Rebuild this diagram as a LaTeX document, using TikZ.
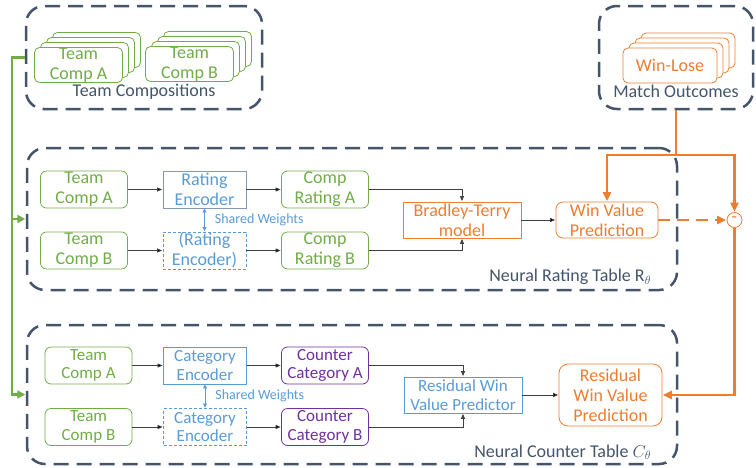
\documentclass[tikz,border=0pt]{standalone}
\usepackage{fontspec}
\setmainfont{Carlito}
\usetikzlibrary{positioning, arrows.meta, calc}

\definecolor{slate}{HTML}{44546A}
\definecolor{leaf}{HTML}{70AD47}
\definecolor{amber}{HTML}{ED7D31}
\definecolor{sky}{HTML}{5B9BD5}
\definecolor{steel}{HTML}{8497B0}
\definecolor{plum}{HTML}{7030A0}

\begin{document}
\begin{tikzpicture}[x=1pt,y=-1pt,shorten >=0.5pt,on grid,
  every node/.style={font=\fontsize{18}{20}\selectfont,align=center,inner sep=0pt},
  group/.style={draw=slate,line width=2.5pt,dash pattern=on 15pt off 8pt,rounded corners=18pt},
  grouplabel/.style={text=slate},
  card/.style={draw=leaf,text=leaf,fill=white,line width=0.8pt,rounded corners=5pt,minimum width=88pt,minimum height=35pt},
  outcard/.style={draw=amber,text=amber,fill=white,line width=0.8pt,rounded corners=5pt,minimum width=94pt,minimum height=35pt},
  comp/.style={draw=leaf,text=leaf,line width=0.8pt,rounded corners=6pt,minimum width=87pt,minimum height=37pt},
  enc/.style={draw=sky,text=sky,line width=0.8pt,minimum width=83pt,minimum height=37pt},
  counter/.style={draw=plum,text=plum,line width=0.8pt,rounded corners=6pt,minimum width=87pt,minimum height=37pt},
  small/.style={font=\fontsize{17}{18.5}\selectfont},
  flow/.style={draw=black!75,line width=0.7pt,-{Triangle[length=5pt,width=4pt]}},
  shared/.style={draw=sky,line width=0.7pt,{Triangle[length=4pt,width=4pt]}-{Triangle[length=4pt,width=4pt]}},
  outcome/.style={draw=amber,line width=2.5pt},
  feed/.style={draw=leaf,line width=2.5pt,-{Triangle[length=8pt,width=8pt]}}
]
\useasboundingbox (0,0) rectangle (756,467);

% groups
\node[group,minimum width=236pt,minimum height=103pt] (comps) at (144,57.5) {};
\node[group,minimum width=154pt,minimum height=103pt] (outcomes) at (676,57.5) {};
\node[group,minimum width=650pt,minimum height=142pt] (rating_tbl) at (352,219) {};
\node[group,minimum width=650pt,minimum height=139pt] (counter_tbl) at (352,394.5) {};

\node[grouplabel] (comps_lbl) [above=11pt of comps.south] {Team Compositions};
\node[grouplabel] (outcomes_lbl) [above=12pt of outcomes.south] {Match Outcomes};
\node[grouplabel,anchor=east] (rating_lbl) at ($(rating_tbl.south east)+(-27,-14)$) {Neural Rating Table $\mathrm{R}_\theta$};
\node[grouplabel,anchor=east] (counter_lbl) at ($(counter_tbl.south east)+(-27,-13)$) {Neural Counter Table $C_\theta$};

% stacked cards
\foreach \i in {3,2,1} {
  \node[card] (tc_a_\i) at (78.5+6*\i,65-5*\i) {};
  \node[card] (tc_b_\i) at (189.5+6*\i,64-5*\i) {};
  \node[outcard] (wl_\i) at (670+6*\i,65.5-5*\i) {};
}
\node[card] (tc_a) at (78.5,65) {Team\\Comp A};
\node[card] (tc_b) at (189.5,64) {Team\\Comp B};
\node[outcard] (wl) at (670,65.5) {Win-Lose};

% rating table
\node[comp] (tc_ra) at (84,189.5) {Team\\Comp A};
\node[enc,draw=steel] (enc_ra) [right=120.5pt of tc_ra] {Rating\\Encoder};
\node[comp] (cr_a) [right=120.5pt of enc_ra] {Comp\\Rating A};
\node[comp] (tc_rb) [below=61pt of tc_ra] {Team\\Comp B};
\node[enc,dash pattern=on 3pt off 2pt] (enc_rb) [below=61pt of enc_ra] {(Rating\\Encoder)};
\node[comp] (cr_b) [below=61pt of cr_a] {Comp\\Rating B};
\node[draw=amber,text=amber,line width=0.8pt,minimum width=118pt,minimum height=36pt] (bt) at (462,220) {Bradley-Terry\\model};
\node[draw=amber,text=amber,line width=0.8pt,rounded corners=7pt,minimum width=102pt,minimum height=36pt] (wvp) [right=145pt of bt] {Win Value\\Prediction};
\node[circle,draw=amber,fill=white,text=amber,line width=0.8pt,minimum size=15pt,font=\fontsize{18}{18}\selectfont] (diff) at (734.5,220) {-};

% counter table
\node[comp,small] (tc_ca) at (88.5,365.5) {Team\\Comp A};
\node[enc,small] (enc_ca) [right=116.5pt of tc_ca] {Category\\Encoder};
\node[counter,small] (cc_a) [right=120pt of enc_ca] {Counter\\Category A};
\node[comp,small] (tc_cb) [below=61.5pt of tc_ca] {Team\\Comp B};
\node[enc,small,dash pattern=on 3pt off 2pt] (enc_cb) [below=61.5pt of enc_ca] {Category\\Encoder};
\node[counter,small] (cc_b) [below=61.5pt of cc_a] {Counter\\Category B};
\node[enc,small,minimum width=118pt,minimum height=36pt] (rwvp) at (463,395) {Residual Win\\Value Predictor};
\node[draw=amber,text=amber,line width=0.8pt,rounded corners=9pt,minimum width=103pt,minimum height=62pt] (rwvpred) [right=147.5pt of rwvp] {Residual\\Win Value\\Prediction};

\path[flow]
  (tc_ra) edge (enc_ra)
  (enc_ra) edge (cr_a)
  (tc_rb) edge (enc_rb)
  (enc_rb) edge (cr_b)
  (bt) edge (wvp)
  (tc_ca) edge (enc_ca)
  (enc_ca) edge (cc_a)
  (tc_cb) edge (enc_cb)
  (enc_cb) edge (cc_b)
  (rwvp) edge (rwvpred);
\draw[flow] (cr_a) -| (bt);
\draw[flow] (cr_b) -| (bt);
\draw[flow] (cc_a) -| (rwvp);
\draw[flow] (cc_b) -| (rwvp);

\draw[shared] (enc_ra) -- (enc_rb) node[midway,anchor=west,xshift=10pt,text=sky,font=\fontsize{14}{16}\selectfont] {Shared Weights};
\draw[shared] (enc_ca) -- (enc_cb) node[midway,anchor=west,xshift=10pt,text=sky,font=\fontsize{14}{16}\selectfont] {Shared Weights};

% outcomes
\coordinate (split) at (outcomes.south |- 0,155);
\draw[outcome] (outcomes) -- (split);
\draw[outcome,-{Triangle[length=9pt,width=8pt]}] (split) -| (wvp);
\draw[outcome,-{Triangle[length=9pt,width=8pt]}] (split) -| (diff);
\draw[outcome,-{Triangle[length=9pt,width=8pt]}] (diff) |- (rwvpred);
\draw[outcome,dash pattern=on 12pt off 7pt,-{Triangle[length=9pt,width=8pt]}] (wvp) -- (diff);

% compositions feed
\coordinate (bus) at (12,0);
\draw[feed] (comps.west) -- (comps.west -| bus) |- (counter_tbl.west);
\draw[feed] (rating_tbl.west -| bus) -- (rating_tbl.west);

\end{tikzpicture}
\end{document}
